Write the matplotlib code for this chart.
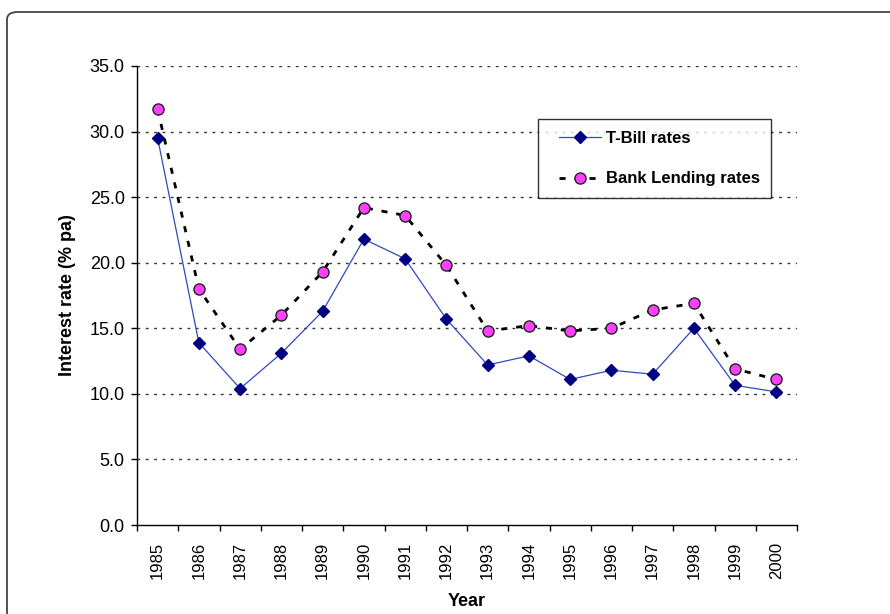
import matplotlib
matplotlib.use("Agg")
import matplotlib.pyplot as plt
import numpy as np
from matplotlib.patches import FancyBboxPatch
from matplotlib.lines import Line2D
from matplotlib.legend_handler import HandlerLine2D

plt.rcParams['font.family'] = ['Liberation Sans', 'DejaVu Sans']

years = ["1985", "1986", "1987", "1988", "1989", "1990", "1991", "1992",
         "1993", "1994", "1995", "1996", "1997", "1998", "1999", "2000"]
tbill_rates = [29.5, 13.9, 10.4, 13.1, 16.3, 21.8, 20.3, 15.7,
               12.2, 12.9, 11.1, 11.8, 11.5, 15.0, 10.65, 10.15]
lending_rates = [31.7, 18.0, 13.4, 16.0, 19.3, 24.2, 23.6, 19.8,
                 14.8, 15.2, 14.8, 15.0, 16.4, 16.9, 11.9, 11.1]
y_ticks = [0, 5, 10, 15, 20, 25, 30, 35]

fig = plt.figure(figsize=(8.9, 6.14), dpi=100)

# rounded chart-area frame
frame = FancyBboxPatch((7 / 890, -0.05), 1.2, 1 - 12 / 614 + 0.05,
                       boxstyle="round,pad=0,rounding_size=0.012",
                       transform=fig.transFigure, facecolor="none",
                       edgecolor="#444444", linewidth=1.3, zorder=-1)
fig.patches.append(frame)

ax = fig.add_axes([137 / 890, 1 - 525 / 614, (797 - 137) / 890, (525 - 66) / 614])
ax.set_facecolor("none")

x = np.arange(len(years))
ax.plot(x, tbill_rates, color="#3048C0", linewidth=0.9, marker="D",
        markersize=6.5, markerfacecolor="#000080", markeredgecolor="#000080",
        label="T-Bill rates", zorder=3)
ax.plot(x, lending_rates, color="black", linewidth=2.0, linestyle=(0, (2.2, 3.2)),
        marker="o", markersize=8, markerfacecolor="#FF40FF",
        markeredgecolor="#222222", markeredgewidth=1.0,
        label="Bank Lending rates", zorder=4)

ax.set_xlim(-0.5, len(years) - 0.5)
ax.set_ylim(0, 35)
ax.set_yticks(y_ticks)
ax.set_yticklabels([f"{v:.1f}" for v in y_ticks], fontsize=13)
ax.set_xticks(x)
ax.set_xticklabels(years, rotation=90, fontsize=12)
ax.set_xticks(np.arange(-0.5, len(years), 1), minor=True)
ax.tick_params(axis="x", which="major", length=0, pad=12)
ax.tick_params(axis="x", which="minor", length=4.3, direction="out", width=1)
ax.tick_params(axis="y", length=4.3, direction="out", width=1, pad=4.5)

for v in y_ticks[1:]:
    ax.axhline(v, color="#333333", linewidth=1.0, linestyle=(0, (2, 4)), zorder=1)

for side in ["top", "right"]:
    ax.spines[side].set_visible(False)
ax.spines["left"].set_linewidth(1.0)
ax.spines["bottom"].set_linewidth(1.0)

ax.set_ylabel("Interest rate (% pa)", fontsize=13, fontweight="bold", labelpad=10)
ax.set_xlabel("Year", fontsize=13, fontweight="bold", labelpad=10)

# legend box spans a fixed region of the plot area
lx0 = (538 - 137) / 660
lw = (771 - 538) / 660
lh = (198 - 119) / 459
ly1 = 1 - (119 - 66) / 459
leg = ax.legend(loc="upper left", bbox_to_anchor=(lx0, ly1 - lh, lw, lh),
                mode="expand", borderaxespad=0,
                prop={"weight": "bold", "size": 12}, frameon=True,
                fancybox=False, edgecolor="black", handlelength=3.1,
                labelspacing=1.55, borderpad=0.7, handletextpad=0.25,
                handler_map={Line2D: HandlerLine2D(xpad=0.55)})
leg.get_frame().set_linewidth(1.0)

fig.savefig("out.png", dpi=100)
